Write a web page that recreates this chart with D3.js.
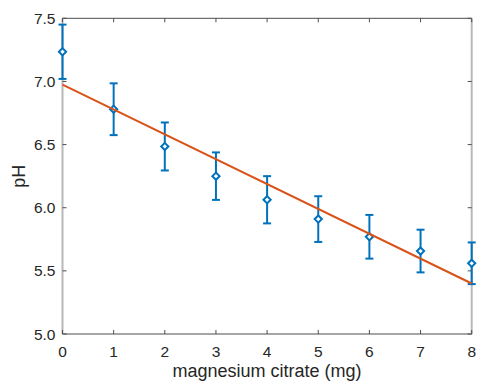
<!DOCTYPE html>
<html>
<head>
<meta charset="utf-8">
<style>
  body { margin: 0; background: #fff; }
  svg { display: block; font-family: 'Liberation Sans', Arial, sans-serif; }
  .tick-label { font-size: 15.5px; fill: #262626; }
  .axis-title { font-size: 18px; fill: #262626; }
</style>
</head>
<body>
<svg width="477" height="383"></svg>
<script src="https://d3js.org/d3.v7.min.js"></script>
<script>
  // data
  let doses = [0, 1, 2, 3, 4, 5, 6, 7, 8]
  let phMean = [7.235, 6.78, 6.485, 6.25, 6.063, 5.91, 5.77, 5.657, 5.56]
  let phErr = [0.215, 0.205, 0.19, 0.188, 0.187, 0.181, 0.173, 0.169, 0.165]
  let fitX = [0, 8]
  let fitY = [6.975, 5.40]
  let xTicks = [0, 1, 2, 3, 4, 5, 6, 7, 8]
  let yTicks = [5.0, 5.5, 6.0, 6.5, 7.0, 7.5]

  let svg = d3.select("svg")
  let plotL = 62.5, plotR = 471.7, plotT = 18.3, plotB = 334

  let x = d3.scaleLinear().domain([0, 8]).range([plotL, plotR])
  let y = d3.scaleLinear().domain([5, 7.5]).range([plotB, plotT])

  let blue = "#0072BD", orange = "#D95319"

  // box: top/bottom dark, sides lighter
  svg.append("line").attr("x1", plotL).attr("x2", plotR).attr("y1", plotT).attr("y2", plotT)
    .attr("stroke", "#4d4d4d").attr("stroke-width", 1)
  svg.append("line").attr("x1", plotL).attr("x2", plotR).attr("y1", plotB).attr("y2", plotB)
    .attr("stroke", "#4d4d4d").attr("stroke-width", 1)
  svg.append("line").attr("x1", plotL).attr("x2", plotL).attr("y1", plotT).attr("y2", plotB)
    .attr("stroke", "#b8b8b8").attr("stroke-width", 2)
  svg.append("line").attr("x1", plotR).attr("x2", plotR).attr("y1", plotT).attr("y2", plotB)
    .attr("stroke", "#b8b8b8").attr("stroke-width", 2)

  // inward ticks
  let tl = 4
  svg.selectAll(".xt-b").data(xTicks).join("line")
    .attr("x1", d => x(d)).attr("x2", d => x(d)).attr("y1", plotB).attr("y2", plotB - tl)
    .attr("stroke", "#4d4d4d")
  svg.selectAll(".xt-t").data(xTicks).join("line")
    .attr("x1", d => x(d)).attr("x2", d => x(d)).attr("y1", plotT).attr("y2", plotT + tl)
    .attr("stroke", "#4d4d4d")
  svg.selectAll(".yt-l").data(yTicks).join("line")
    .attr("x1", plotL).attr("x2", plotL + tl).attr("y1", d => y(d)).attr("y2", d => y(d))
    .attr("stroke", "#4d4d4d")
  svg.selectAll(".yt-r").data(yTicks).join("line")
    .attr("x1", plotR).attr("x2", plotR - tl).attr("y1", d => y(d)).attr("y2", d => y(d))
    .attr("stroke", "#4d4d4d")

  // tick labels
  svg.selectAll(".xl").data(xTicks).join("text")
    .attr("class", "tick-label")
    .attr("x", d => x(d)).attr("y", 356.5)
    .attr("text-anchor", "middle")
    .text(d => d)
  svg.selectAll(".yl").data(yTicks).join("text")
    .attr("class", "tick-label")
    .attr("x", 55.5).attr("y", d => y(d) + 5.5)
    .attr("text-anchor", "end")
    .text(d => d3.format(".1f")(d))

  // axis titles
  svg.append("text").attr("class", "axis-title")
    .attr("x", (plotL + plotR) / 2).attr("y", 377)
    .attr("text-anchor", "middle")
    .text("magnesium citrate (mg)")
  svg.append("text").attr("class", "axis-title")
    .attr("transform", `translate(25, ${(plotT + plotB) / 2}) rotate(-90)`)
    .attr("text-anchor", "middle")
    .text("pH")

  // error bars
  let pts = doses.map((d, i) => ({x: d, m: phMean[i], e: phErr[i]}))
  let cap = 4
  let eb = svg.append("g").attr("stroke", blue).attr("stroke-width", 2).attr("fill", "none")
  eb.selectAll(".v").data(pts).join("line")
    .attr("x1", d => x(d.x)).attr("x2", d => x(d.x))
    .attr("y1", d => y(d.m - d.e)).attr("y2", d => y(d.m + d.e))
  eb.selectAll(".ct").data(pts).join("line")
    .attr("x1", d => x(d.x) - cap).attr("x2", d => x(d.x) + cap)
    .attr("y1", d => y(d.m + d.e)).attr("y2", d => y(d.m + d.e))
  eb.selectAll(".cb").data(pts).join("line")
    .attr("x1", d => x(d.x) - cap).attr("x2", d => x(d.x) + cap)
    .attr("y1", d => y(d.m - d.e)).attr("y2", d => y(d.m - d.e))
  eb.selectAll(".dm").data(pts).join("path")
    .attr("d", d => {
      let cx = x(d.x), cy = y(d.m), r = 3.6
      return `M${cx},${cy - r}L${cx + r},${cy}L${cx},${cy + r}L${cx - r},${cy}Z`
    })
    .attr("fill", "#fff")

  // fitted line
  let line = d3.line().x(d => x(d[0])).y(d => y(d[1]))
  svg.append("path")
    .datum(fitX.map((v, i) => [v, fitY[i]]))
    .attr("d", line)
    .attr("stroke", orange).attr("stroke-width", 2).attr("fill", "none")
</script>
</body>
</html>
